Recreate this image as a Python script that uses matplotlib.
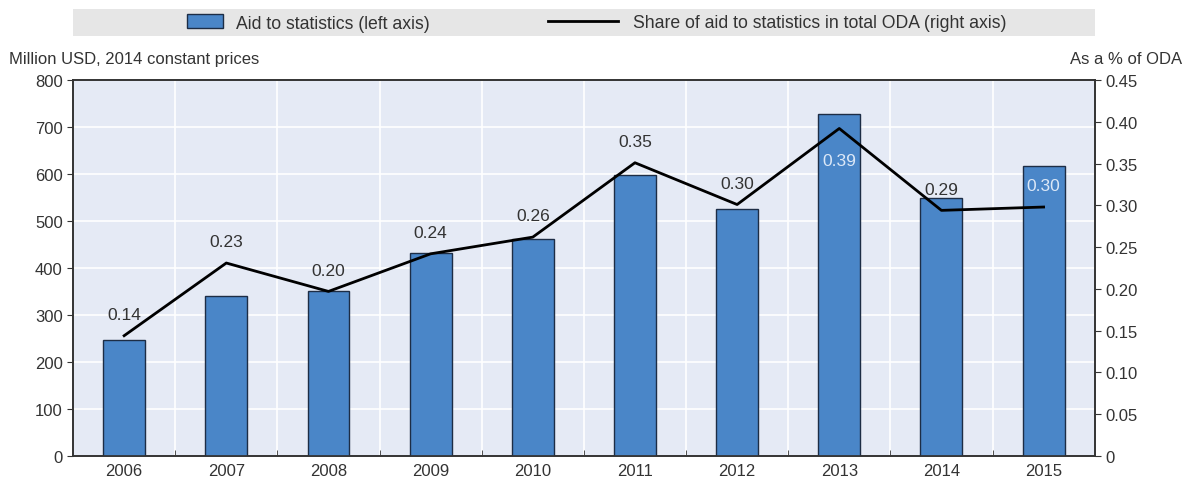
import matplotlib.pyplot as plt
from matplotlib.patches import Rectangle, Patch
from matplotlib.lines import Line2D
from matplotlib.ticker import FixedLocator, FuncFormatter

plt.rcParams['font.family'] = ['Liberation Sans', 'DejaVu Sans']

years = ['2006', '2007', '2008', '2009', '2010', '2011', '2012', '2013', '2014', '2015']
aid = [247, 340, 351, 432, 462, 598, 525, 727, 549, 617]
share = [0.144, 0.231, 0.197, 0.242, 0.262, 0.351, 0.301, 0.392, 0.294, 0.298]

bar_col = '#4a86c8'
bg_col = '#e5eaf5'
txt_col = '#333333'

fig = plt.figure(figsize=(11.86, 4.89), dpi=100)
ax = fig.add_axes([0.0616, 0.0654, 0.8614, 0.7689])
ax2 = ax.twinx()
ax.set_zorder(1)
ax2.set_zorder(2)
ax.set_facecolor(bg_col)
ax2.patch.set_visible(False)

x = list(range(len(years)))
ax.bar(x, aid, width=0.41, color=bar_col, edgecolor='#1d2d45', linewidth=1, zorder=3)
ax.set_xlim(-0.5, len(years) - 0.5)
ax.set_ylim(0, 800)
ax.set_yticks(range(0, 801, 100))
ax.set_xticks(x)
ax.set_xticklabels(years)
ax.xaxis.set_minor_locator(FixedLocator([i + 0.5 for i in range(len(years) - 1)]))
ax.tick_params(axis='x', which='major', length=0, pad=5, labelsize=12, colors=txt_col)
ax.tick_params(axis='x', which='minor', direction='in', length=4, color='#333333')
ax.tick_params(axis='y', length=4, labelsize=12, colors=txt_col, color='#333333')
ax.grid(True, which='minor', axis='x', color='white', linewidth=1.2, zorder=0)
ax.grid(True, which='major', axis='y', color='white', linewidth=1.2, zorder=0)
ax.set_axisbelow(True)

ax2.plot(x, share, color='black', linewidth=2, zorder=4)
ax2.set_ylim(0, 0.45)
ax2.set_yticks([i * 0.05 for i in range(10)])
ax2.yaxis.set_major_formatter(FuncFormatter(lambda v, p: '0' if v == 0 else f'{v:.2f}'))
ax2.tick_params(axis='y', length=4, labelsize=12, colors=txt_col, color='#333333')

for i, v in enumerate(share):
    if i == 7:
        ax2.annotate(f'{v:.2f}', (i, v), xytext=(0, -26), textcoords='offset points',
                     ha='center', fontsize=12.5, color='#dce8f7', zorder=5)
    else:
        ax2.annotate(f'{v:.2f}', (i, v), xytext=(0, 12), textcoords='offset points',
                     ha='center', fontsize=12.5, color='#dce8f7' if i == 9 else txt_col, zorder=5)

for a in (ax, ax2):
    for s in a.spines.values():
        s.set_color('#333333')
        s.set_linewidth(1.2)

fig.text(0.008, 0.862, 'Million USD, 2014 constant prices', fontsize=12, color=txt_col, va='bottom')
fig.text(0.997, 0.862, 'As a % of ODA', fontsize=12, color=txt_col, ha='right', va='bottom')

fig.patches.append(Rectangle((0.0616, 0.924), 0.8614, 0.056, transform=fig.transFigure,
                             facecolor='#e6e6e6', edgecolor='none', zorder=0))
leg1 = fig.legend([Patch(facecolor=bar_col, edgecolor='#1d2d45')], ['Aid to statistics (left axis)'],
                  loc='center left', bbox_to_anchor=(0.158, 0.951), frameon=False, fontsize=12.7,
                  handlelength=2.0, handleheight=0.85, handletextpad=0.75, labelcolor=txt_col,
                  borderpad=0, borderaxespad=0)
leg2 = fig.legend([Line2D([0], [0], color='black', linewidth=2)],
                  ['Share of aid to statistics in total ODA (right axis)'],
                  loc='center left', bbox_to_anchor=(0.462, 0.951), frameon=False, fontsize=12.7,
                  handlelength=4.0, handletextpad=0.85, labelcolor=txt_col,
                  borderpad=0, borderaxespad=0)

fig.savefig('out.png', dpi=100)
